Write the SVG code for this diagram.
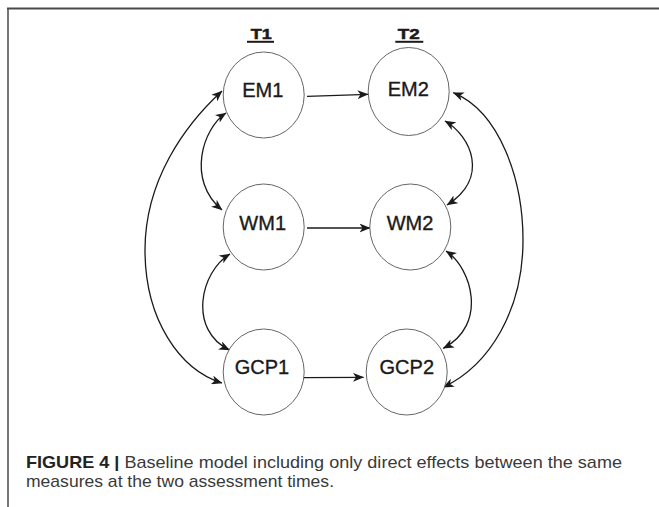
<svg xmlns="http://www.w3.org/2000/svg" width="659" height="507" viewBox="0 0 659 507">
<style>
.node ellipse{fill:#fff;stroke:#666;stroke-width:1}
.node text{font-family:"Liberation Sans",Arial,sans-serif;font-size:20px;fill:#1a1a1a;stroke:#1a1a1a;stroke-width:0.35;text-anchor:middle}
.hdr{font-family:"Liberation Sans",Arial,sans-serif;font-size:15px;font-weight:bold;fill:#1a1a1a;stroke:#1a1a1a;stroke-width:0.5;text-anchor:middle}
.ul{stroke:#1a1a1a;stroke-width:2}
.conn path{fill:none;stroke:#1a1a1a;stroke-width:1.3}
.cap{font-family:"Liberation Sans",Arial,sans-serif;font-size:17px;fill:#3a3a3a}
.cap .b{font-weight:bold;fill:#222}
</style>
<defs>
<marker id="ah" viewBox="0 0 11 9" refX="10.5" refY="4.5" markerWidth="11" markerHeight="9" markerUnits="userSpaceOnUse" orient="auto-start-reverse">
<path d="M0,0 L11,4.5 L0,9 L3,4.5 z" fill="#1a1a1a"/>
</marker>
</defs>
<rect width="659" height="507" fill="#fff"/>
<g id="frame">
<line x1="7" y1="8.5" x2="659" y2="8.5" stroke="#4a4a4a" stroke-width="2"/>
<line x1="8" y1="8" x2="8" y2="507" stroke="#4a4a4a" stroke-width="1.5"/>
</g>
<g id="headers">
<text class="hdr" x="261.3" y="38.5" textLength="21" lengthAdjust="spacingAndGlyphs">T1</text>
<line class="ul" x1="247" y1="41.8" x2="274" y2="41.8"/>
<text class="hdr" x="408.8" y="38.5" textLength="22" lengthAdjust="spacingAndGlyphs">T2</text>
<line class="ul" x1="395.3" y1="41.8" x2="423.3" y2="41.8"/>
</g>
<g id="connectors" class="conn">
<path d="M307,96.3 L368,94.3" marker-end="url(#ah)"/>
<path d="M307,228 L370,228" marker-end="url(#ah)"/>
<path d="M304,377.7 L363.5,377.3" marker-end="url(#ah)"/>
<path d="M222,91 C185,125 145,180 145,250 C145,320 180,370 222,383" marker-start="url(#ah)" marker-end="url(#ah)"/>
<path d="M226,113 C203,128 186,180 222,210" marker-start="url(#ah)" marker-end="url(#ah)"/>
<path d="M230,254 C200,272 188,330 229.5,350" marker-start="url(#ah)" marker-end="url(#ah)"/>
<path d="M445,121 C471,136 490,178 447,205" marker-start="url(#ah)" marker-end="url(#ah)"/>
<path d="M446,251 C472,268 488,325 443.3,348.3" marker-start="url(#ah)" marker-end="url(#ah)"/>
<path d="M453.3,92.7 C500,112 523,180 523,240 C523,310 490,365 443.3,387.3" marker-start="url(#ah)" marker-end="url(#ah)"/>
</g>
<g id="EM1" class="node"><ellipse cx="263.7" cy="95" rx="40.5" ry="43"/><text x="262.7" y="97.3">EM1</text></g>
<g id="EM2" class="node"><ellipse cx="408.7" cy="91.5" rx="40.5" ry="44"/><text x="408.3" y="95.7">EM2</text></g>
<g id="WM1" class="node"><ellipse cx="263.7" cy="227" rx="40.5" ry="43"/><text x="262.7" y="230">WM1</text></g>
<g id="WM2" class="node"><ellipse cx="410.3" cy="227" rx="40.5" ry="43"/><text x="410" y="230">WM2</text></g>
<g id="GCP1" class="node"><ellipse cx="263.7" cy="372" rx="40.5" ry="43"/><text x="262" y="374">GCP1</text></g>
<g id="GCP2" class="node"><ellipse cx="406.7" cy="372" rx="40.5" ry="43"/><text x="406.8" y="374">GCP2</text></g>
<g id="caption">
<text class="cap" x="26" y="467.5" textLength="596" lengthAdjust="spacingAndGlyphs"><tspan class="b">FIGURE 4 |</tspan> Baseline model including only direct effects between the same</text>
<text class="cap" x="26" y="487" textLength="308" lengthAdjust="spacingAndGlyphs">measures at the two assessment times.</text>
</g>
</svg>
